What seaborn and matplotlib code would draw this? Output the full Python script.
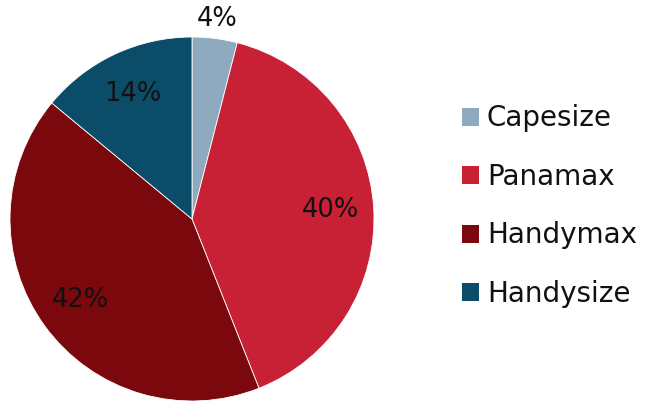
import numpy as np
import matplotlib
matplotlib.use("Agg")
import matplotlib.pyplot as plt
import seaborn as sns
from matplotlib.patches import Patch

categories = ["Capesize", "Panamax", "Handymax", "Handysize"]
shares = [4, 40, 42, 14]
colors = ["#8eaabf", "#c82035", "#7a080d", "#0b4c68"]

sns.set_theme(style="white")
plt.rcParams["font.family"] = ["DejaVu Sans"]
plt.rcParams["text.color"] = "black"
palette = sns.color_palette(colors)

fig = plt.figure(figsize=(6.46, 4.01), dpi=100)
# pie axes: centre ~ (192, 219) px, radius ~182 px
r_px = 182
cx, cy = 192, 219
W, H = 646, 401
ax = fig.add_axes([(cx - r_px) / W, (H - cy - r_px) / H, 2 * r_px / W, 2 * r_px / H])

wedges, texts, autotexts = ax.pie(
    shares, colors=palette, startangle=90, counterclock=False,
    autopct=lambda p: f"{p:.0f}%", pctdistance=0.76,
    textprops=dict(fontsize=18.5, color="#111111"),
    wedgeprops=dict(linewidth=0.6, edgecolor="white"),
)
ax.set_xlim(-1, 1)
ax.set_ylim(-1, 1)
ax.set_aspect("equal")

# small slice label sits outside the pie
for w, t, v in zip(wedges, autotexts, shares):
    if v < 8:
        mid = np.deg2rad((w.theta1 + w.theta2) / 2)
        t.set_position((1.11 * np.cos(mid), 1.11 * np.sin(mid)))

handles = [Patch(facecolor=c, edgecolor="none") for c in palette]
fig.legend(handles, categories, loc="center left", bbox_to_anchor=(437 / W, 0.486),
           frameon=False, fontsize=20, handlelength=0.62, handleheight=0.62,
           handletextpad=0.28, labelspacing=1.1, labelcolor="#111111")

fig.savefig("out.png", dpi=100)
